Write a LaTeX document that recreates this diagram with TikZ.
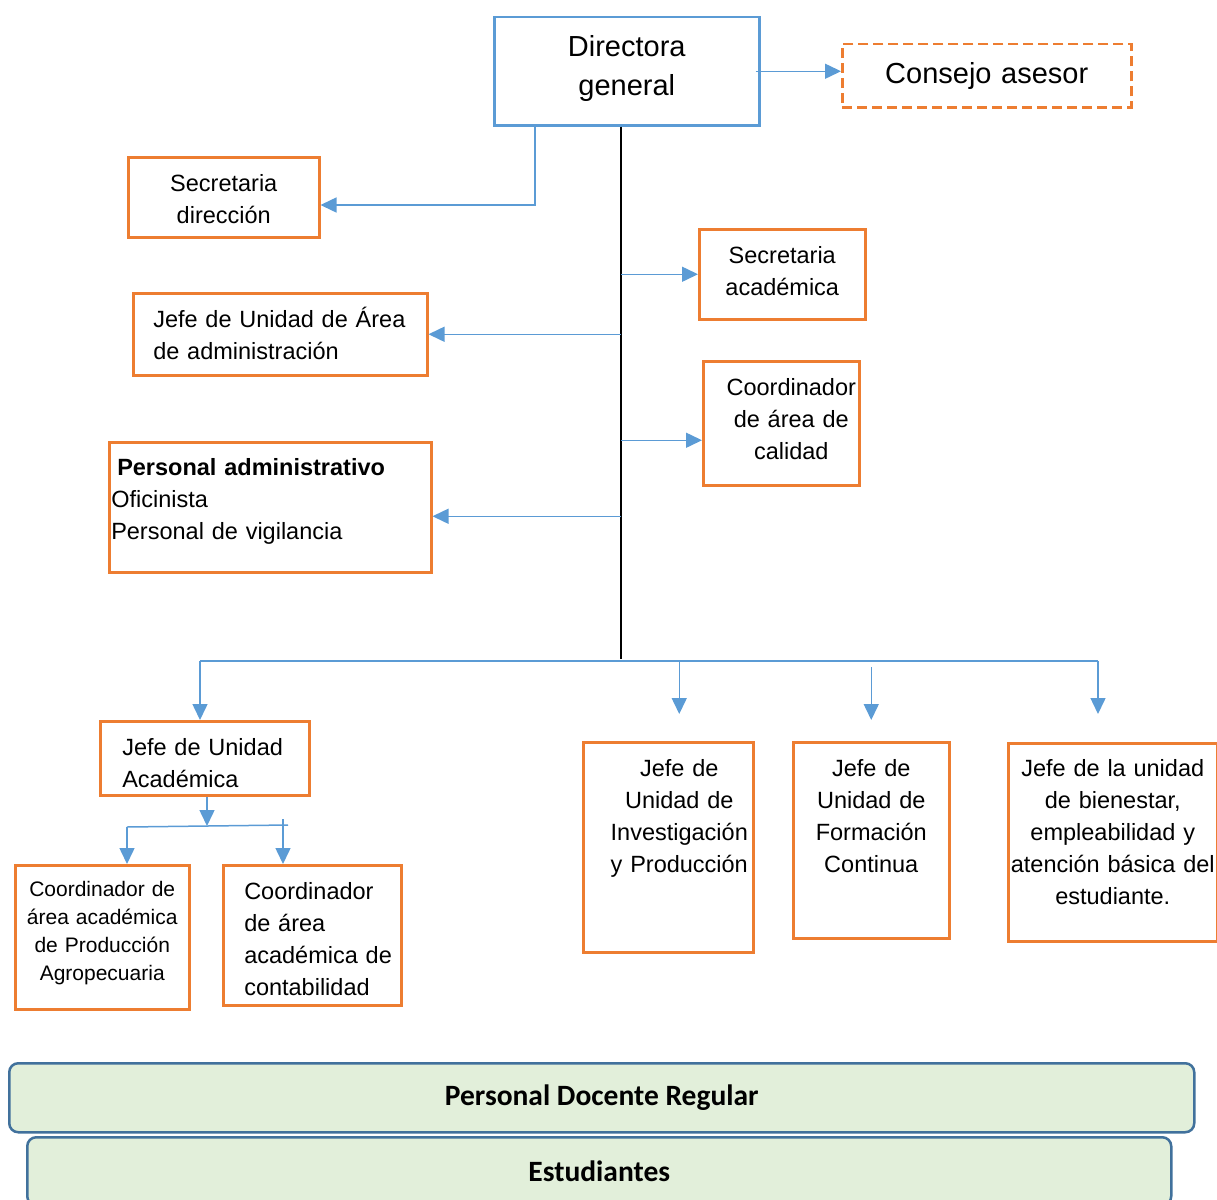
\documentclass[tikz,border=0pt]{standalone}
\usepackage{fontspec}
\setmainfont{Liberation Sans}
\newfontfamily\calibfont{Carlito}
\usetikzlibrary{arrows.meta,calc}
\definecolor{boxorange}{HTML}{ED7D31}
\definecolor{linkblue}{HTML}{5B9BD5}
\definecolor{bandfill}{HTML}{E2EFDA}
\definecolor{banddraw}{HTML}{41719C}
\tikzset{
  unit/.style={draw=boxorange, line width=2.5pt, inner sep=0pt, anchor=north west, font=\fontsize{23.5}{32}\selectfont},
  link/.style={draw=linkblue, line width=1.5pt},
  conn/.style={link, -{Triangle[length=16pt,width=15pt]}},
  band/.style={draw=banddraw, fill=bandfill, line width=2.5pt, rounded corners=9pt, anchor=north west, inner sep=0pt, font=\calibfont\bfseries\fontsize{29.5}{34}\selectfont},
}
\begin{document}
\begin{tikzpicture}[x=1pt,y=-1pt]
\useasboundingbox (0,0) rectangle (1217,1199);
\clip (0,0) rectangle (1217,1199);
\node[unit, draw=linkblue, text width=265pt, align=center, text height=39.4pt, text depth=68.6pt, font=\fontsize{29}{39}\selectfont] (dir) at (493,16) {Directora\\general};
\node[unit, dash pattern=on 10pt off 5pt, text width=289pt, align=center, text height=39.4pt, text depth=23.6pt, font=\fontsize{29}{39}\selectfont] (cons) at (841,43) {Consejo asesor};
\node[unit, text width=191pt, align=center, text height=34.5pt, text depth=45.5pt] (secd) at (127,156) {Secretaria\\dirección};
\node[unit, text width=166pt, align=center, text height=34.5pt, text depth=55.5pt] (seca) at (698,228) {Secretaria\\académica};
\node[unit, inner xsep=20pt, text width=254pt, align=left, text height=34.5pt, text depth=47.5pt] (jadm) at (132,292) {Jefe de Unidad de Área\\de administración};
\node[unit, text width=156pt, align=center, text height=34.5pt, text depth=89.5pt] (cal) at (702,360) {\hspace*{20pt}Coordinador\\\hspace*{20pt}de área de\\\hspace*{20pt}calidad};
\node[unit, inner xsep=2pt, text width=318pt, align=left, text height=33.5pt, text depth=96.5pt] (padm) at (108,441) {\hspace*{6pt}\textbf{Personal administrativo}\\Oficinista\\Personal de vigilancia};
\node[unit, inner xsep=22pt, text width=165pt, align=left, text height=34.5pt, text depth=39.5pt] (jacad) at (99,720) {Jefe de Unidad\\Académica};
\node[unit, text width=170pt, align=center, text height=34.5pt, text depth=175.5pt] (jinv) at (582,741) {\hspace*{22pt}Jefe de\\\hspace*{22pt}Unidad de\\\hspace*{22pt}Investigación\\\hspace*{22pt}y~Producción};
\node[unit, text width=156pt, align=center, text height=34.5pt, text depth=161.5pt] (jfor) at (792,741) {Jefe de\\Unidad de\\Formación\\Continua};
\node[unit, text width=209pt, align=center, text height=33.5pt, text depth=164.5pt] (jbien) at (1007,742) {Jefe de la unidad\\de bienestar,\\empleabilidad y\\atención~básica~del\\estudiante.};
\node[unit, text width=174pt, align=center, text height=31.5pt, text depth=112.5pt, font=\fontsize{21}{28}\selectfont] (cprod) at (14,864) {Coordinador de\\área académica\\de Producción\\Agropecuaria};
\node[unit, inner xsep=21pt, text width=136pt, align=left, text height=34.5pt, text depth=105.5pt] (ccont) at (222,864) {Coordinador\\de área\\académica~de\\contabilidad};
\node[band, minimum width=1185pt, minimum height=69pt] (pdoc) at (8,1062) {Personal Docente Regular};
\node[band, minimum width=1144pt, minimum height=68pt] (estu) at (26,1136) {Estudiantes};

\coordinate (hub) at (621,659);
\coordinate (busL) at (200,661);
\coordinate (busR) at (1098,661);
\coordinate (bend) at (535,205);
\coordinate (split) at (207,826);
\coordinate (subL) at (127,827);
\coordinate (subR) at (288,825);
\coordinate (tick) at (283,819);

\draw[conn] ([xshift=-5pt]dir.east) -- (dir.east -| cons.west);
\draw[conn] ([xshift=-82pt]dir.south) -| (bend) -- (bend -| secd.east);
\draw[line width=2pt] (dir.south -| hub) -- (hub);
\draw[conn] (hub |- seca.west) -- (seca.west);
\draw[conn] (hub |- jadm.east) -- (jadm.east);
\draw[conn] ($(cal.west -| hub)+(0,17)$) -- ($(cal.west)+(0,17)$);
\draw[conn] ($(padm.east -| hub)+(0,9)$) -- ($(padm.east)+(0,9)$);
\draw[link] (busL) -- (busR);
\draw[conn] (busL) -- (busL |- jacad.north);
\draw[conn] ($(jinv.north |- busL)+(11,0)$) -- ($(jinv.north)+(11,-27)$);
\draw[conn] ($(jfor.north |- busL)+(0,6)$) -- ($(jfor.north)+(0,-21)$);
\draw[conn] (busR) -- ($(busR |- jbien.north)+(0,-28)$);
\draw[conn] (jacad.south -| split) -- (split);
\draw[link] (subL) -- (subR);
\draw[conn] (subL) -- (subL |- cprod.north);
\draw[conn] (tick) -- (tick |- ccont.north);
\end{tikzpicture}
\end{document}
